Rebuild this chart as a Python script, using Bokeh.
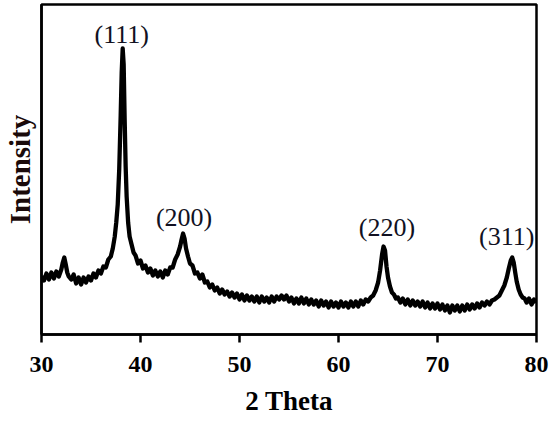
from bokeh.plotting import figure
from bokeh.models import FixedTicker, Range1d, ColumnDataSource
from bokeh.core.properties import value
from bokeh.embed import file_html
from bokeh.resources import INLINE

two_theta = [
    30.00, 30.25, 30.50, 30.75, 31.00, 31.25, 31.50, 31.75, 32.00, 32.15, 32.30, 32.45, 32.60, 32.75,
    33.00, 33.25, 33.50, 33.75, 34.00, 34.25, 34.50, 34.75, 35.00, 35.25, 35.50, 35.75, 36.00, 36.25,
    36.50, 36.75, 37.00, 37.20, 37.40, 37.55, 37.70, 37.85, 38.00, 38.10, 38.20, 38.30, 38.40, 38.50,
    38.60, 38.75, 38.90, 39.10, 39.30, 39.50, 39.75, 40.00, 40.25, 40.50, 40.75, 41.00, 41.25, 41.50,
    41.75, 42.00, 42.25, 42.50, 42.75, 43.00, 43.25, 43.50, 43.75, 44.00, 44.15, 44.30, 44.45, 44.60,
    44.80, 45.00, 45.25, 45.50, 45.75, 46.00, 46.25, 46.50, 46.75, 47.00, 47.25, 47.50, 47.75, 48.00,
    48.25, 48.50, 48.75, 49.00, 49.25, 49.50, 49.75, 50.00, 50.25, 50.50, 50.75, 51.00, 51.25, 51.50,
    51.75, 52.00, 52.25, 52.50, 52.75, 53.00, 53.25, 53.50, 53.75, 54.00, 54.25, 54.50, 54.75, 55.00,
    55.25, 55.50, 55.75, 56.00, 56.25, 56.50, 56.75, 57.00, 57.25, 57.50, 57.75, 58.00, 58.25, 58.50,
    58.75, 59.00, 59.25, 59.50, 59.75, 60.00, 60.25, 60.50, 60.75, 61.00, 61.25, 61.50, 61.75, 62.00,
    62.25, 62.50, 62.75, 63.00, 63.25, 63.50, 63.75, 64.00, 64.20, 64.40, 64.55, 64.70, 64.85, 65.00,
    65.20, 65.40, 65.60, 65.80, 66.00, 66.25, 66.50, 66.75, 67.00, 67.25, 67.50, 67.75, 68.00, 68.25,
    68.50, 68.75, 69.00, 69.25, 69.50, 69.75, 70.00, 70.25, 70.50, 70.75, 71.00, 71.25, 71.50, 71.75,
    72.00, 72.25, 72.50, 72.75, 73.00, 73.25, 73.50, 73.75, 74.00, 74.25, 74.50, 74.75, 75.00, 75.25,
    75.50, 75.75, 76.00, 76.25, 76.50, 76.75, 77.00, 77.20, 77.40, 77.55, 77.70, 77.85, 78.00, 78.20,
    78.40, 78.60, 78.80, 79.00, 79.25, 79.50, 79.75, 80.00,
]
intensity = [
    58, 54, 61, 55, 62, 56, 63, 58, 65, 72, 77, 70, 62, 58,
    55, 60, 51, 57, 50, 57, 52, 58, 54, 61, 57, 64, 61, 68,
    67, 75, 78, 86, 98, 112, 130, 165, 220, 262, 286, 270, 215, 168,
    138, 112, 98, 90, 82, 79, 71, 74, 66, 69, 62, 66, 59, 64,
    58, 63, 57, 64, 60, 67, 67, 75, 80, 88, 95, 101, 96, 86,
    78, 71, 69, 61, 62, 56, 60, 52, 53, 47, 50, 44, 47, 41,
    45, 40, 43, 38, 42, 37, 41, 35, 40, 34, 39, 34, 38, 33,
    38, 32, 38, 33, 37, 32, 38, 33, 38, 35, 39, 35, 39, 33,
    37, 31, 36, 31, 37, 31, 36, 30, 35, 30, 34, 28, 34, 29,
    33, 27, 33, 28, 32, 27, 33, 28, 32, 27, 33, 28, 33, 28,
    34, 30, 35, 33, 37, 39, 44, 52, 64, 80, 88, 84, 68, 57,
    48, 42, 40, 36, 37, 32, 36, 30, 35, 29, 34, 29, 33, 28,
    33, 27, 32, 26, 31, 26, 31, 25, 30, 24, 29, 22, 29, 24,
    29, 23, 29, 24, 30, 25, 30, 26, 31, 27, 32, 29, 33, 30,
    34, 35, 37, 39, 44, 49, 57, 66, 74, 77, 72, 62, 53, 45,
    40, 37, 36, 32, 36, 30, 35, 32,
]

peak_labels = ["(111)", "(200)", "(220)", "(311)"]
peak_label_x = [38.1, 44.4, 64.9, 77.0]
peak_label_y = [300, 117, 107, 98]

x_ticks = [30, 40, 50, 60, 70, 80]

SERIF = "Liberation Serif"

p = figure(frame_width=495, frame_height=330, output_backend="svg", toolbar_location=None,
           x_range=Range1d(30, 80), y_range=Range1d(0, 330),
           min_border_left=40, min_border_right=13, min_border_top=4, min_border_bottom=86)
p.background_fill_color = "white"
p.border_fill_color = "white"
p.outline_line_color = "black"
p.outline_line_width = 2.5
p.xgrid.visible = False
p.ygrid.visible = False

p.line(two_theta, intensity, line_color="black", line_width=4.3, line_join="round")

src = ColumnDataSource(dict(x=peak_label_x, y=peak_label_y, t=peak_labels))
p.text(x="x", y="y", text="t", source=src, text_font=value(SERIF), text_font_size="26px",
       text_align="center", text_baseline="middle", text_color="#111122")

xa = p.xaxis[0]
xa.ticker = FixedTicker(ticks=x_ticks)
xa.axis_label = "2 Theta"
xa.axis_label_text_font = SERIF
xa.axis_label_text_font_style = "bold"
xa.axis_label_text_font_size = "27px"
xa.axis_label_text_color = "black"
xa.axis_label_standoff = 11
xa.major_label_text_font = SERIF
xa.major_label_text_font_style = "bold"
xa.major_label_text_font_size = "24px"
xa.major_label_text_color = "black"
xa.major_label_standoff = 14
xa.axis_line_color = "black"
xa.axis_line_width = 2.5
xa.major_tick_in = 0
xa.major_tick_out = 8
xa.major_tick_line_width = 2.5
xa.major_tick_line_color = "black"
xa.minor_tick_line_color = None

ya = p.yaxis[0]
ya.ticker = FixedTicker(ticks=[])
ya.axis_label = "Intensity"
ya.axis_label_text_font = SERIF
ya.axis_label_text_font_style = "bold"
ya.axis_label_text_font_size = "29px"
ya.axis_label_text_color = "#1a0a0a"
ya.axis_label_standoff = 6
ya.axis_line_color = "black"
ya.axis_line_width = 2.5
ya.major_tick_line_color = None
ya.minor_tick_line_color = None
ya.major_label_text_font_size = "0px"

open("out.html", "w").write(file_html(p, INLINE))
